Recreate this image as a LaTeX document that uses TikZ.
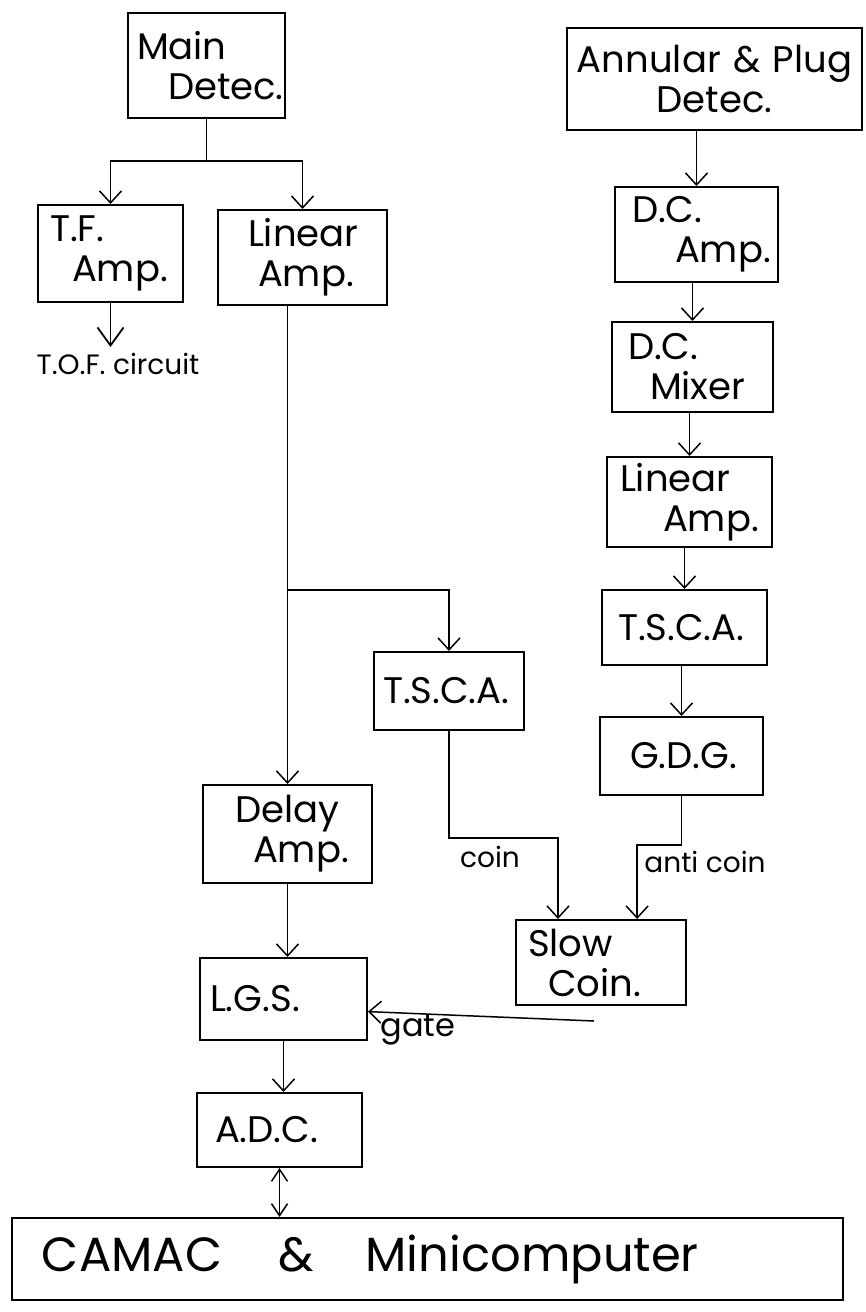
\documentclass[tikz,border=0pt]{standalone}
\usepackage{fontspec}
\setmainfont{Poppins}
\usetikzlibrary{arrows.meta,positioning,calc}
\newcommand{\boxfont}{\fontsize{37}{40}\selectfont}
\newcommand{\labfont}{\fontsize{28}{30}\selectfont}

\begin{document}
\begin{tikzpicture}[x=1pt, y=-1pt,
  blk/.style={rectangle, draw=black, line width=2pt,
              inner xsep=0pt, inner ysep=0pt,
              align=left, font=\boxfont},
  lbl/.style={inner sep=0pt, font=\labfont},
  arrow/.style={-{Straight Barb[length=12pt,width=22pt]}, line width=1.5pt},
  bigarrow/.style={-{Straight Barb[length=18pt,width=26pt]}, line width=1.8pt},
  bothways/.style={{Straight Barb[length=12pt,width=16pt]}-{Straight Barb[length=12pt,width=16pt]}, line width=1.5pt}
]
\useasboundingbox[fill=white] (0,0) rectangle (865,1312);

% Main detector branch
\node[blk, text width=157pt, minimum height=105pt] (main)  at (206.5,65.5) {\hspace*{9pt}Main\\\hspace*{40pt}Detec.};
\node[blk, text width=145pt, minimum height=97pt]  (tfamp) at (110.5,253.5) {\hspace*{12pt}T.F.\\\hspace*{34pt}Amp.};
\node[blk, text width=169pt, minimum height=95pt]  (linL)  at (302.5,257.5) {\hspace*{30pt}Linear\\\hspace*{40pt}Amp.};
\node[lbl] (tof) at (118,364) {T.O.F. circuit};
\node[blk, text width=150pt, minimum height=78pt]  (tscaM) at (449,691) {\hspace*{9pt}T.S.C.A.};
\node[blk, text width=169pt, minimum height=98pt]  (delay) at (287.5,834) {\hspace*{32pt}Delay\\\hspace*{50pt}Amp.};
\node[blk, text width=167pt, minimum height=82pt]  (lgs)   at (283.5,999) {\hspace*{10pt}L.G.S.};
\node[blk, text width=165pt, minimum height=74pt]  (adc)   at (279.5,1130) {\hspace*{18pt}A.D.C.};

% Annular & plug column
\node[blk, align=center, text width=295pt, minimum height=102pt] (annular) at (714.5,79) {Annular \& Plug\\Detec.};
\node[blk, text width=163pt, minimum height=95pt]  (dcamp) at (696.5,234.5) {\hspace*{17pt}D.C.\\\hspace*{60pt}Amp.};
\node[blk, text width=161pt, minimum height=90pt]  (mixer) at (692.5,367) {\hspace*{16pt}D.C.\\\hspace*{38pt}Mixer};
\node[blk, text width=165pt, minimum height=90pt]  (linR)  at (689.5,502) {\hspace*{13pt}Linear\\\hspace*{56pt}Amp.};
\node[blk, text width=165pt, minimum height=75pt]  (tscaR) at (684.5,627.5) {\hspace*{16pt}T.S.C.A.};
\node[blk, text width=163pt, minimum height=78pt]  (gdg)   at (681.5,756) {\hspace*{30pt}G.D.G.};
\node[blk, text width=170pt, minimum height=85pt]  (slow)  at (601,962.5) {\hspace*{12pt}Slow\\\hspace*{32pt}Coin.};

% Computer
\node[blk, text width=831pt, minimum height=82pt, font=\fontsize{48}{52}\selectfont] (camac) at (427.5,1259)
  {\hspace*{30pt}CAMAC\hspace{56pt}\&\hspace{52pt}Minicomputer};

% Labels
\node[lbl] (coinlbl) at (490,857) {coin};
\node[lbl] (antilbl) at (705,862) {anti coin};
\node[lbl, font=\fontsize{32}{34}\selectfont] (gatelbl) at (418,1030) {gate};

% Main detector arrows
\draw[arrow] (main.south) -- ++(0,42) -| (tfamp.north);
\draw[arrow] (main.south) ++(0,42) -| (linL.north);
\draw[bigarrow, shorten >=6pt] (tfamp.south) -- (tfamp.south |- tof.north);
\coordinate (br) at (287.5,590);
\draw[arrow] (linL.south -| delay.north) -- (delay.north);
\draw[arrow] (br) -| (tscaM.north);
\draw[arrow] (delay.south) -- (delay.south |- lgs.north);
\draw[arrow] (lgs.south) -- (lgs.south |- adc.north);
\draw[bothways] (adc.south) -- (adc.south |- camac.north);

% Annular column arrows
\draw[arrow] (annular.south -| dcamp.north) -- (dcamp.north);
\draw[arrow] (dcamp.south -| mixer.north) -- (mixer.north);
\draw[arrow] (mixer.south -| linR.north) -- (linR.north);
\draw[arrow] (linR.south -| tscaR.north) -- (tscaR.north);
\draw[arrow] (tscaR.south -| gdg.north) -- (gdg.north);

% Coincidence
\draw[arrow] (tscaM.south) -- ++(0,107) -| ($(slow.north west)!0.25!(slow.north east)$);
\draw[arrow] (gdg.south) -- ++(0,49) -| ($(slow.north west)!0.71!(slow.north east)$);
\draw[arrow] ($(slow.south west)+(79,15)$) -- ($(lgs.south east)!0.35!(lgs.north east)$);

\end{tikzpicture}
\end{document}
